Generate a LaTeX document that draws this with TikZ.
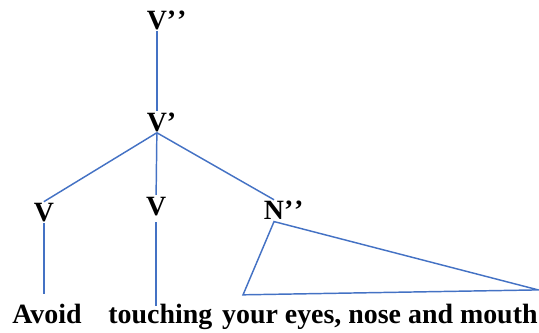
\documentclass[tikz,border=0pt]{standalone}
\usepackage{fontspec}
\setmainfont{Liberation Serif}
\usepackage{tikz}
\definecolor{linkblue}{RGB}{68,114,196}
\tikzstyle{cat} = [font=\fontsize{21}{25}\selectfont\bfseries, inner sep=1pt, text height=14pt, text depth=0pt, anchor=base]
\tikzstyle{word} = [font=\fontsize{21}{25}\selectfont\bfseries, inner sep=0pt, anchor=base west]
\tikzstyle{branch} = [draw=linkblue, line width=1.1pt]

\begin{document}
\begin{tikzpicture}
\useasboundingbox (0,0) rectangle (14.26,8.81);

% Categories
\node (vpp) [cat] at (4.15,8.02) {V\rlap{’\kern0.6pt’}};
\node (vp) [cat] at (4.15,5.34) {V\rlap{’}};
\node (v1) [cat] at (1.16,2.94) {V};
\node (v2) [cat] at (4.13,3.12) {V};
\node (npp) [cat] at (7.25,2.99) {N\rlap{’\kern0.6pt’}};

% Words
\node (avoid) [word] at (0.32,0.26) {Avoid};
\node (touching) [word] at (2.86,0.26) {touching};
\node (phrase) [word] at (5.87,0.26) {your eyes, nose and mouth};

% Branches
\draw [branch] (vpp.south) -- (vp.north);
\draw [branch] (vp.south) -- (v1.north);
\draw [branch] (vp.south) -- (v2.north);
\draw [branch] (vp.south) -- (npp.north);
\draw [branch, shorten >=0.24cm] (v1.south) -- (v1.south |- avoid.north);
\draw [branch, shorten <=0.15cm, shorten >=-0.06cm] (v2.south) -- (v2.south |- touching.north);

% Triangle over the phrase
\coordinate (baseleft) at (6.43,1.01);
\coordinate (baseright) at (14.24,1.14);
\draw [branch] (npp.south) -- (baseleft) -- (baseright) -- cycle;

\end{tikzpicture}
\end{document}
